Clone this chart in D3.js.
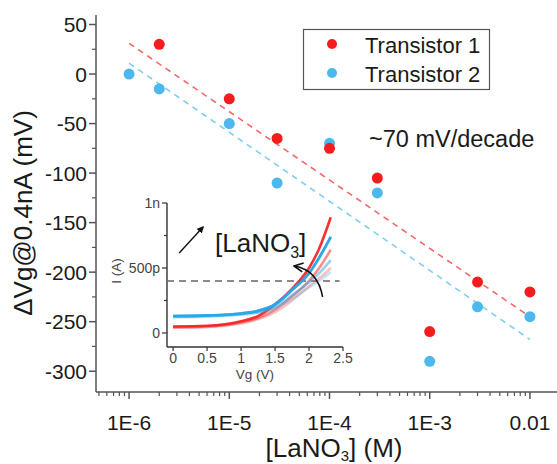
<!DOCTYPE html>
<html>
<head>
<meta charset="utf-8">
<script src="https://cdn.jsdelivr.net/npm/d3@7"></script>
<style>
  body { margin: 0; background: #fff; }
  text { font-family: "Liberation Sans", Arial, sans-serif; fill: #1a1a1a; }
</style>
</head>
<body>
<div id="chart"></div>
<script>
// main data: concentration (M) vs threshold shift (mV)
const conc1 = [2e-6, 1e-5, 3e-5, 1e-4, 3e-4, 1e-3, 3e-3, 1e-2];
const shift1 = [30, -25, -65, -75, -105, -260, -210, -220];
const conc2 = [1e-6, 2e-6, 1e-5, 3e-5, 1e-4, 3e-4, 1e-3, 3e-3, 1e-2];
const shift2 = [0, -15, -50, -110, -70, -120, -290, -235, -245];

// linear fit end points (log x)
const fit1 = [[1e-6, 31], [1e-2, -245]];
const fit2 = [[1e-6, 11], [1e-2, -268]];

const xTicks = [1e-6, 1e-5, 1e-4, 1e-3, 1e-2];
const xTickLabels = ["1E-6", "1E-5", "1E-4", "1E-3", "0.01"];
const yTicks = [-300, -250, -200, -150, -100, -50, 0, 50];

// inset: transfer curves, Vg (V) vs I (nA)
const vg = [0, 0.5, 1, 1.25, 1.5, 1.75, 2, 2.15, 2.32];
const redCurves = [
  [0.05, 0.055, 0.09, 0.13, 0.22, 0.34, 0.5, 0.65, 0.89],
  [0.045, 0.05, 0.08, 0.115, 0.18, 0.28, 0.4, 0.5, 0.64],
  [0.04, 0.045, 0.075, 0.105, 0.16, 0.25, 0.36, 0.42, 0.5]
];
const blueCurves = [
  [0.13, 0.135, 0.15, 0.17, 0.22, 0.33, 0.46, 0.58, 0.74],
  [0.125, 0.13, 0.145, 0.16, 0.2, 0.29, 0.39, 0.46, 0.56],
  [0.12, 0.125, 0.14, 0.155, 0.19, 0.26, 0.35, 0.4, 0.47]
];
const curveAlpha = [0.9, 0.5, 0.28];
const insetXTicks = [0, 0.5, 1, 1.5, 2, 2.5];
const insetYTicks = [0, 0.5, 1];
const insetYLabels = ["0", "500p", "1n"];
const refCurrent = 0.4;

const red = "#f51c1e", blue = "#4cb8ee";
const width = 557, height = 464;

const svg = d3.select("#chart").append("svg")
  .attr("width", width).attr("height", height);

const x = d3.scaleLog().domain([Math.pow(10, -6.33), Math.pow(10, -1.73)]).range([96, 557]);
const y = d3.scaleLinear().domain([-321, 59.6]).range([392, 15]);

// axes
const axisColor = "#555";
const xAxis = svg.append("g").attr("transform", `translate(0,${y.range()[0]})`);
xAxis.append("line").attr("x1", x.range()[0]).attr("x2", x.range()[1])
  .attr("stroke", axisColor).attr("stroke-width", 1.5);
const minorX = [];
for (let e = -7; e <= -2; e++) {
  for (let m = 2; m <= 9; m++) {
    const v = m * Math.pow(10, e);
    if (v > x.domain()[0] && v < x.domain()[1]) minorX.push(v);
  }
}
xAxis.selectAll(".minor").data(minorX).enter().append("line")
  .attr("x1", d => x(d)).attr("x2", d => x(d)).attr("y1", 0).attr("y2", 4)
  .attr("stroke", axisColor).attr("stroke-width", 1.2);
xAxis.selectAll(".major").data(xTicks).enter().append("line")
  .attr("x1", d => x(d)).attr("x2", d => x(d)).attr("y1", 0).attr("y2", 7)
  .attr("stroke", axisColor).attr("stroke-width", 1.5);
xAxis.selectAll(".lbl").data(xTicks).enter().append("text")
  .attr("x", d => x(d)).attr("y", 38)
  .attr("text-anchor", "middle").style("font-size", "21px")
  .text((d, i) => xTickLabels[i]);

const yAxis = svg.append("g").attr("transform", `translate(${x.range()[0]},0)`);
yAxis.append("line").attr("y1", y.range()[0]).attr("y2", y.range()[1])
  .attr("stroke", axisColor).attr("stroke-width", 1.5);
const minorY = d3.range(-300, 75, 25).filter(d => d % 50 !== 0);
yAxis.selectAll(".minor").data(minorY).enter().append("line")
  .attr("x1", 0).attr("x2", -4).attr("y1", d => y(d)).attr("y2", d => y(d))
  .attr("stroke", axisColor).attr("stroke-width", 1.2);
yAxis.selectAll(".major").data(yTicks).enter().append("line")
  .attr("x1", 0).attr("x2", -7).attr("y1", d => y(d)).attr("y2", d => y(d))
  .attr("stroke", axisColor).attr("stroke-width", 1.5);
yAxis.selectAll(".lbl").data(yTicks).enter().append("text")
  .attr("x", -9).attr("y", d => y(d)).attr("dy", "0.36em")
  .attr("text-anchor", "end").style("font-size", "21px")
  .text(d => d);

// axis titles
svg.append("text")
  .attr("transform", `translate(32,213) rotate(-90)`)
  .attr("text-anchor", "middle").style("font-size", "26px")
  .text("ΔVg@0.4nA (mV)");

const xt = svg.append("text")
  .attr("x", 334).attr("y", 457)
  .attr("text-anchor", "middle").style("font-size", "26px");
xt.append("tspan").text("[LaNO");
xt.append("tspan").attr("dy", 4).style("font-size", "15px").text("3");
xt.append("tspan").attr("dy", -4).text("] (M)");

// fit lines
const fitLine = d3.line().x(d => x(d[0])).y(d => y(d[1]));
svg.append("path").attr("d", fitLine(fit1)).attr("fill", "none")
  .attr("stroke", "#f06a6a").attr("stroke-width", 1.6).attr("stroke-dasharray", "6,5");
svg.append("path").attr("d", fitLine(fit2)).attr("fill", "none")
  .attr("stroke", "#82cdf2").attr("stroke-width", 1.6).attr("stroke-dasharray", "6,5");

// points
svg.selectAll(".p2").data(conc2).enter().append("circle")
  .attr("cx", d => x(d)).attr("cy", (d, i) => y(shift2[i])).attr("r", 5.5)
  .attr("fill", blue);
svg.selectAll(".p1").data(conc1).enter().append("circle")
  .attr("cx", d => x(d)).attr("cy", (d, i) => y(shift1[i])).attr("r", 5.5)
  .attr("fill", red);

// slope annotation
svg.append("text").attr("x", 369).attr("y", 147)
  .style("font-size", "23.5px").text("~70 mV/decade");

// legend
const legend = svg.append("g");
legend.append("rect").attr("x", 303.5).attr("y", 29.5).attr("width", 186).attr("height", 60)
  .attr("fill", "#fff").attr("stroke", "#555").attr("stroke-width", 1.2);
[["Transistor 1", red], ["Transistor 2", blue]].forEach((s, i) => {
  legend.append("circle").attr("cx", 332).attr("cy", 44 + i * 29).attr("r", 5).attr("fill", s[1]);
  legend.append("text").attr("x", 365).attr("y", 53 + i * 28.5)
    .style("font-size", "22px").text(s[0]);
});

// inset
const ix = d3.scaleLinear().domain([-0.09, 2.5]).range([167, 343]);
const iy = d3.scaleLinear().domain([-0.108, 1]).range([347, 203]);
const inset = svg.append("g");
const insetColor = "#333";
inset.append("line").attr("x1", ix.range()[0]).attr("x2", ix.range()[1])
  .attr("y1", iy.range()[0]).attr("y2", iy.range()[0])
  .attr("stroke", insetColor).attr("stroke-width", 1.4);
inset.append("line").attr("x1", ix.range()[0]).attr("x2", ix.range()[0])
  .attr("y1", iy.range()[0]).attr("y2", iy.range()[1])
  .attr("stroke", insetColor).attr("stroke-width", 1.4);
inset.selectAll(".ixt").data(insetXTicks).enter().append("line")
  .attr("x1", d => ix(d)).attr("x2", d => ix(d))
  .attr("y1", iy.range()[0]).attr("y2", iy.range()[0] + 4)
  .attr("stroke", insetColor).attr("stroke-width", 1.2);
inset.selectAll(".ixl").data(insetXTicks).enter().append("text")
  .attr("x", d => ix(d)).attr("y", iy.range()[0] + 16)
  .attr("text-anchor", "middle").style("font-size", "14px").style("fill", "#444")
  .text(d => d);
inset.selectAll(".iym").data([0.25, 0.75]).enter().append("line")
  .attr("x1", ix.range()[0]).attr("x2", ix.range()[0] - 3)
  .attr("y1", d => iy(d)).attr("y2", d => iy(d))
  .attr("stroke", insetColor).attr("stroke-width", 1.2);
inset.selectAll(".iyt").data(insetYTicks).enter().append("line")
  .attr("x1", ix.range()[0]).attr("x2", ix.range()[0] - 5)
  .attr("y1", d => iy(d)).attr("y2", d => iy(d))
  .attr("stroke", insetColor).attr("stroke-width", 1.2);
inset.selectAll(".iyl").data(insetYTicks).enter().append("text")
  .attr("x", ix.range()[0] - 7).attr("y", d => iy(d)).attr("dy", "0.36em")
  .attr("text-anchor", "end").style("font-size", "14px").style("fill", "#444")
  .text((d, i) => insetYLabels[i]);
inset.append("text")
  .attr("transform", `translate(121,271) rotate(-90)`)
  .attr("text-anchor", "middle").style("font-size", "13.5px").style("fill", "#444")
  .text("I (A)");
inset.append("text").attr("x", (ix.range()[0] + ix.range()[1]) / 2).attr("y", 379)
  .attr("text-anchor", "middle").style("font-size", "13.5px").style("fill", "#444")
  .text("Vg (V)");

// reference current
inset.append("line")
  .attr("x1", ix.range()[0]).attr("x2", ix(2.45))
  .attr("y1", iy(refCurrent)).attr("y2", iy(refCurrent))
  .attr("stroke", "#666").attr("stroke-width", 1.5).attr("stroke-dasharray", "7,5");

const curve = d3.line().x((d, i) => ix(vg[i])).y(d => iy(d)).curve(d3.curveMonotoneX);
[[redCurves, red], [blueCurves, "#2aa6e6"]].forEach(([set, col]) => {
  set.slice().reverse().forEach((c, j) => {
    inset.append("path").attr("d", curve(c)).attr("fill", "none")
      .attr("stroke", col).attr("stroke-width", 2.6)
      .attr("stroke-opacity", curveAlpha[set.length - 1 - j]);
  });
});
// draw dark blue curve on top again for the braided look
inset.append("path").attr("d", curve(blueCurves[0])).attr("fill", "none")
  .attr("stroke", "#2aa6e6").attr("stroke-width", 2.6).attr("stroke-opacity", 0.85);

// arrows
const defs = svg.append("defs");
defs.append("marker").attr("id", "head").attr("viewBox", "0 0 10 10")
  .attr("refX", 8).attr("refY", 5).attr("markerWidth", 5).attr("markerHeight", 5)
  .attr("orient", "auto")
  .append("path").attr("d", "M0,0L10,5L0,10z").attr("fill", "#111");
defs.append("marker").attr("id", "open").attr("viewBox", "0 0 10 10")
  .attr("refX", 9).attr("refY", 5).attr("markerWidth", 7).attr("markerHeight", 7)
  .attr("orient", "auto")
  .append("path").attr("d", "M1,1L9,5L1,9").attr("fill", "none").attr("stroke", "#111").attr("stroke-width", 1.5);

inset.append("line")
  .attr("x1", ix(0.09)).attr("y1", iy(0.615)).attr("x2", ix(0.44)).attr("y2", iy(0.815))
  .attr("stroke", "#111").attr("stroke-width", 1.4).attr("marker-end", "url(#head)");
const ia = inset.append("text").attr("x", 215).attr("y", 252).style("font-size", "26px");
ia.append("tspan").text("[LaNO");
ia.append("tspan").attr("dy", 6).style("font-size", "16px").text("3");
ia.append("tspan").attr("dy", -6).text("]");

const bend = d3.path();
bend.moveTo(ix(2.2), iy(0.277));
bend.quadraticCurveTo(ix(2.13), iy(0.485), ix(1.78), iy(0.515));
inset.append("path").attr("d", bend.toString()).attr("fill", "none")
  .attr("stroke", "#111").attr("stroke-width", 1.6).attr("marker-end", "url(#open)");
</script>
</body>
</html>
